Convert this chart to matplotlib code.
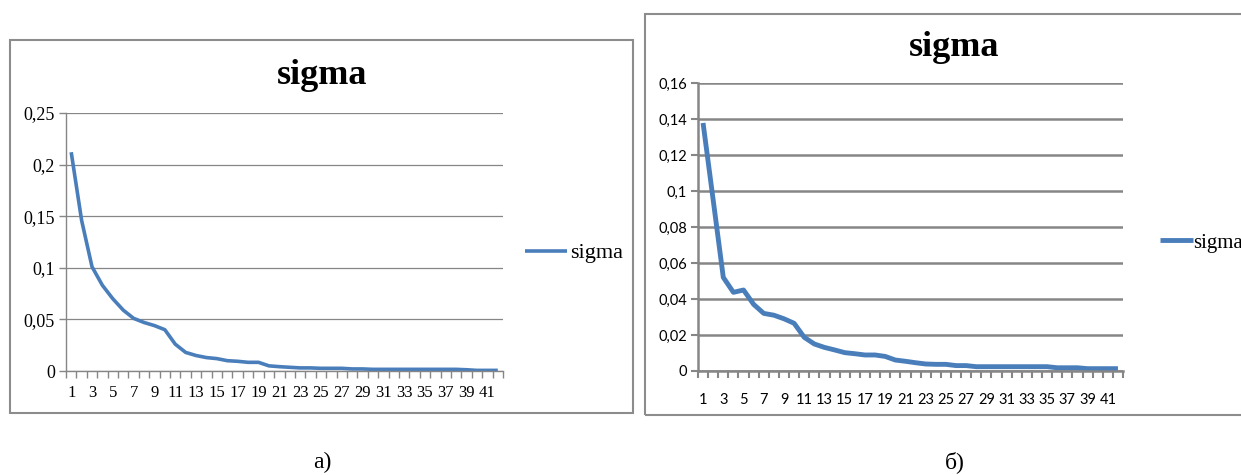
import numpy as np
import matplotlib
matplotlib.use("Agg")
import matplotlib.pyplot as plt
from matplotlib.patches import Rectangle

# sigma per iteration, panel a) and panel b)
steps = np.arange(1, 43)
sigma_a = [0.212, 0.146, 0.101, 0.083, 0.070, 0.059, 0.051, 0.047, 0.044, 0.040,
           0.026, 0.018, 0.015, 0.013, 0.012, 0.010, 0.0094, 0.0084, 0.0084, 0.005,
           0.0042, 0.0036, 0.003, 0.003, 0.0026, 0.0026, 0.0026, 0.002, 0.002, 0.0016,
           0.0016, 0.0016, 0.0016, 0.0016, 0.0016, 0.0016, 0.0016, 0.0016, 0.0012, 0.0006,
           0.0006, 0.0006]
sigma_b = [0.1378, 0.095, 0.052, 0.0437, 0.045, 0.037, 0.032, 0.031, 0.029, 0.0265,
           0.0187, 0.015, 0.0131, 0.0117, 0.0102, 0.0096, 0.0089, 0.0089, 0.0081, 0.0061,
           0.0054, 0.0046, 0.0039, 0.0037, 0.0037, 0.003, 0.003, 0.0024, 0.0024, 0.0024,
           0.0024, 0.0024, 0.0024, 0.0024, 0.0024, 0.0018, 0.0018, 0.0018, 0.0013, 0.0013,
           0.0013, 0.0013]
yticks_a = [0, 0.05, 0.1, 0.15, 0.2, 0.25]
ylabels_a = ["0", "0,05", "0,1", "0,15", "0,2", "0,25"]
yticks_b = [0, 0.02, 0.04, 0.06, 0.08, 0.1, 0.12, 0.14, 0.16]
ylabels_b = ["0", "0,02", "0,04", "0,06", "0,08", "0,1", "0,12", "0,14", "0,16"]
xlabels = [str(i) for i in steps[::2]]

W, H = 1241, 475
fig = plt.figure(figsize=(W / 100, H / 100), dpi=100)
fig.patch.set_facecolor("white")


def box(x0, y0, x1, y1):
    # pixel box (top-left origin) -> figure fraction rect
    return [x0 / W, 1 - y1 / H, (x1 - x0) / W, (y1 - y0) / H]


def frame(x0, y0, x1, y1):
    r = box(x0, y0, x1, y1)
    fig.patches.append(Rectangle((r[0], r[1]), r[2], r[3], transform=fig.transFigure,
                                 fill=False, edgecolor="#8c8c8c", lw=1.5))


blue = "#4a7ebb"
grey = "#868686"

frame(10, 40, 633, 413)
frame(645, 14, 1300, 415)

# ---- panel a)
ax = fig.add_axes(box(66, 113, 503, 371))
ax.plot(steps, sigma_a, color=blue, lw=2.6, label="sigma", solid_capstyle="butt")
ax.set_xlim(0.5, 42.5)
ax.set_ylim(0, 0.25)
ax.set_yticks(yticks_a)
ax.set_yticklabels(ylabels_a, family="Liberation Serif", fontsize=13)
ax.set_xticks(steps[::2])
ax.set_xticklabels(xlabels, family="Liberation Serif", fontsize=12)
ax.set_xticks(np.arange(0.5, 43, 1), minor=True)
ax.tick_params(axis="x", which="major", length=0, pad=10)
ax.tick_params(axis="x", which="minor", length=5, color=grey, width=1)
ax.tick_params(axis="y", length=5, color=grey, width=1, pad=3)
ax.grid(axis="y", color=grey, lw=0.9)
ax.set_axisbelow(True)
for s in ["top", "right"]:
    ax.spines[s].set_visible(False)
for s in ["left", "bottom"]:
    ax.spines[s].set_color(grey)
    ax.spines[s].set_linewidth(1)
fig.text(322 / W, 1 - 75 / H, "sigma", ha="center", va="center",
         family="Liberation Serif", fontweight="bold", fontsize=26)
ax.legend(loc="center left", bbox_to_anchor=(525 / W, 1 - 253 / H),
          bbox_transform=fig.transFigure, frameon=False, handlelength=1.9,
          handletextpad=0.15, borderpad=0.0, borderaxespad=0.0,
          prop={"family": "Liberation Serif", "size": 16})

# ---- panel b)
bx = fig.add_axes(box(698, 83, 1123, 371))
bx.plot(steps, sigma_b, color=blue, lw=3.5, label="sigma", solid_capstyle="butt")
bx.set_xlim(0.5, 42.5)
bx.set_ylim(0, 0.16)
bx.set_yticks(yticks_b)
bx.set_yticklabels(ylabels_b, family="Lato", fontsize=10.5)
bx.set_xticks(steps[::2])
bx.set_xticklabels(xlabels, family="Lato", fontsize=10.5)
bx.set_xticks(np.arange(0.5, 43, 1), minor=True)
bx.tick_params(axis="x", which="major", length=0, pad=16)
bx.tick_params(axis="x", which="minor", length=5, color=grey, width=1.5)
bx.tick_params(axis="y", length=5, color=grey, width=1.5, pad=3)
bx.grid(axis="y", color=grey, lw=1.8)
bx.set_axisbelow(True)
for s in ["top", "right"]:
    bx.spines[s].set_visible(False)
for s in ["left", "bottom"]:
    bx.spines[s].set_color(grey)
    bx.spines[s].set_linewidth(1.8)
fig.text(954 / W, 1 - 47 / H, "sigma", ha="center", va="center",
         family="Liberation Serif", fontweight="bold", fontsize=26)
bx.legend(loc="center left", bbox_to_anchor=(1160 / W, 1 - 243 / H),
          bbox_transform=fig.transFigure, frameon=False, handlelength=1.6,
          handletextpad=0.0, borderpad=0.0, borderaxespad=0.0,
          prop={"family": "Liberation Serif", "size": 15})

# captions
fig.text(322 / W, 1 - 462 / H, "а)", ha="center", va="center",
         family="Liberation Serif", fontsize=17)
fig.text(955 / W, 1 - 462 / H, "б)", ha="center", va="center",
         family="Liberation Serif", fontsize=17)

fig.savefig("out.png", dpi=100)
